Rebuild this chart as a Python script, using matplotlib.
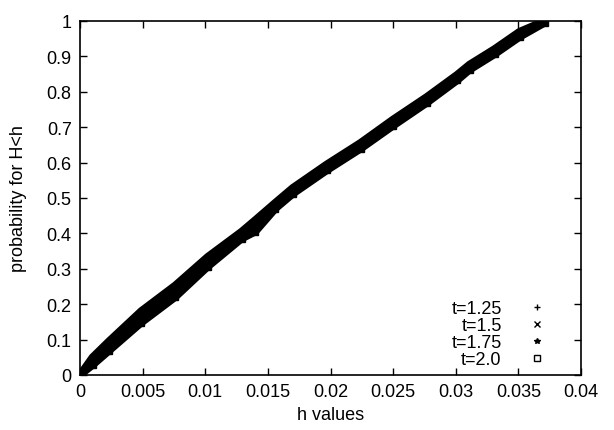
import matplotlib
matplotlib.use("Agg")
import matplotlib.pyplot as plt
from matplotlib.lines import Line2D

plt.rcParams['font.family'] = ['Liberation Sans', 'DejaVu Sans']

# h values (x) common sampling of the empirical CDFs
h_values = [0.0, 0.0010, 0.0023, 0.0049, 0.0076, 0.0102, 0.0129, 0.0140, 0.0156,
            0.0170, 0.0197, 0.0224, 0.0250, 0.0277, 0.0301, 0.0311, 0.0331, 0.0351, 0.0371]

p_t125 = [0.0, 0.050, 0.095, 0.181, 0.253, 0.334, 0.405, 0.438, 0.487, 0.529,
          0.595, 0.656, 0.722, 0.786, 0.848, 0.877, 0.921, 0.970, 1.0]
p_t150 = [0.0, 0.044, 0.088, 0.171, 0.244, 0.326, 0.398, 0.434, 0.483, 0.524,
          0.590, 0.651, 0.717, 0.781, 0.843, 0.872, 0.916, 0.965, 1.0]
p_t175 = [0.0, 0.036, 0.078, 0.160, 0.232, 0.316, 0.391, 0.428, 0.477, 0.518,
          0.584, 0.645, 0.711, 0.775, 0.838, 0.867, 0.911, 0.960, 0.998]
p_t200 = [0.0, 0.028, 0.068, 0.148, 0.220, 0.306, 0.385, 0.405, 0.470, 0.512,
          0.578, 0.639, 0.704, 0.769, 0.832, 0.862, 0.906, 0.955, 0.995]

labels = ["t=1.25", "t=1.5", "t=1.75", "t=2.0"]
series = [p_t125, p_t150, p_t175, p_t200]
markers = ['+', 'x', '*', 's']

fig = plt.figure(figsize=(6.14, 4.31), dpi=100)
ax = fig.add_axes([80/614, 1-376/431, 501/614, 354/431])

for p, m in zip(series, markers):
    ax.plot(h_values, p, color='black', lw=5.5, marker=m, ms=4,
            mfc='black', mec='black', solid_capstyle='round',
            solid_joinstyle='round')

ax.set_xlim(0, 0.04)
ax.set_ylim(0, 1)
ax.set_xticks([0, 0.005, 0.01, 0.015, 0.02, 0.025, 0.03, 0.035, 0.04])
ax.set_xticklabels(['0', '0.005', '0.01', '0.015', '0.02', '0.025', '0.03', '0.035', '0.04'])
ax.set_yticks([i/10 for i in range(11)])
ax.set_yticklabels(['0', '0.1', '0.2', '0.3', '0.4', '0.5', '0.6', '0.7', '0.8', '0.9', '1'])
ax.tick_params(direction='in', length=5, width=1, top=True, right=True,
               labelsize=13, pad=6, colors='black')
for s in ax.spines.values():
    s.set_linewidth(1.2)

ax.set_xlabel('h values', fontsize=13, labelpad=4)
ax.set_ylabel('probability for H<h', fontsize=13, labelpad=14)

handles = [Line2D([], [], ls='none', marker=m, color='black', ms=4,
                  mfc='none' if m == 's' else 'black', mew=1) for m in markers]
ax.legend(handles, labels, loc='lower right', bbox_to_anchor=(0.93, 0.02),
          frameon=False, markerfirst=False, fontsize=13, labelspacing=0.0,
          handlelength=1.0, handletextpad=1.45, borderpad=0, borderaxespad=0)

fig.savefig('out.png', dpi=100)
